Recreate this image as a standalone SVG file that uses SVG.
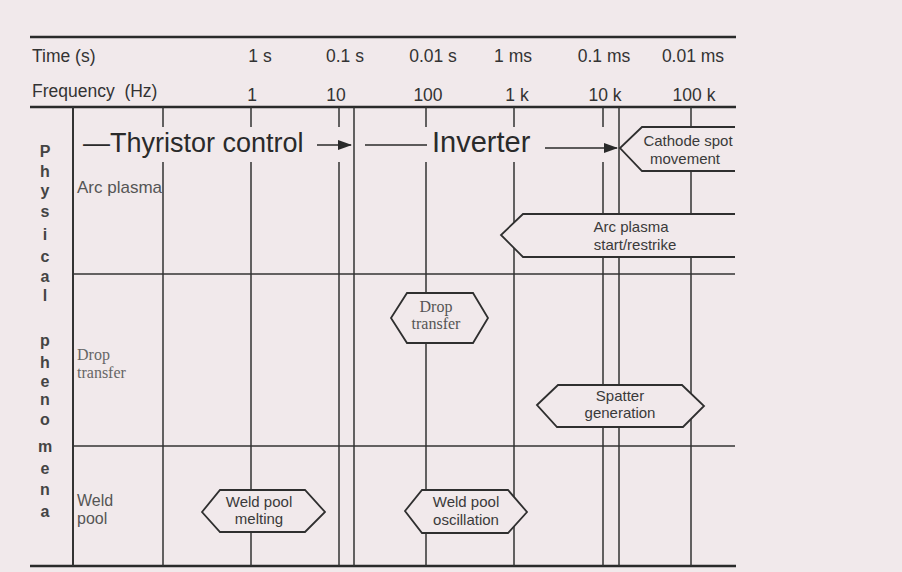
<svg xmlns="http://www.w3.org/2000/svg" width="902" height="572" viewBox="0 0 902 572">
<defs>
<style>
.bg{fill:#f1e9eb}
.rule{stroke:#2a2a2a;stroke-width:2.6;fill:none}
.grid{stroke:#333;stroke-width:1.5;fill:none}
.hex{fill:#f1e9eb;stroke:#2f2f2f;stroke-width:1.8}
.hexfill{fill:#f1e9eb;stroke:none}
.hexline{fill:none;stroke:#2f2f2f;stroke-width:1.8}
.hdr{font-family:"Liberation Sans",Arial,sans-serif;font-size:17.5px;fill:#333}
.big{font-family:"Liberation Sans",Arial,sans-serif;fill:#2a2a2a}
.side{font-family:"Liberation Sans",Arial,sans-serif;font-size:16px;fill:#555}
.sideserif{font-family:"Liberation Serif","Times New Roman",serif;font-size:16px;fill:#666}
.vert{font-family:"Liberation Sans",Arial,sans-serif;font-size:16px;font-weight:bold;fill:#444;text-anchor:middle}
.lbl{font-family:"Liberation Sans",Arial,sans-serif;font-size:15px;fill:#3a3a3a;text-anchor:middle}
.lblserif{font-family:"Liberation Serif","Times New Roman",serif;font-size:16px;fill:#555;text-anchor:middle}
.mid{text-anchor:middle}
.arrow{stroke:#2a2a2a;stroke-width:1.6;fill:none}
</style>
<marker id="ah" markerWidth="14" markerHeight="10" refX="13" refY="5" orient="auto" markerUnits="userSpaceOnUse">
<path d="M0,0 L14,5 L0,10 Z" fill="#2a2a2a"/>
</marker>
</defs>
<rect class="bg" x="0" y="0" width="902" height="572"/>

<g id="grid">
<line class="rule" x1="30" y1="37" x2="736" y2="37"/>
<line class="rule" x1="30" y1="107" x2="736" y2="107"/>
<line class="rule" x1="30" y1="566" x2="736" y2="566"/>
<line class="grid" x1="73" y1="107" x2="73" y2="566" style="stroke-width:2"/>
<line class="grid" x1="73" y1="274" x2="735" y2="274"/>
<line class="grid" x1="73" y1="446" x2="735" y2="446"/>
<path class="grid" d="M163,107V127M163,162V566M251,107V127M251,162V566M339,107V127M339,162V566M426,107V127M426,162V566M514,107V127M514,162V566M603,107V127M603,162V566"/>
<path class="grid" d="M354,107V566M619,107V566M691,107V566"/>
</g>

<g id="header">
<text class="hdr" x="32" y="62">Time (s)</text>
<text class="hdr" x="32" y="97" xml:space="preserve">Frequency  (Hz)</text>
<text class="hdr mid" x="260" y="62">1 s</text>
<text class="hdr mid" x="345" y="62">0.1 s</text>
<text class="hdr mid" x="433" y="62">0.01 s</text>
<text class="hdr mid" x="513" y="62">1 ms</text>
<text class="hdr mid" x="604" y="62">0.1 ms</text>
<text class="hdr mid" x="693" y="62">0.01 ms</text>
<text class="hdr mid" x="252" y="101">1</text>
<text class="hdr mid" x="336" y="101">10</text>
<text class="hdr mid" x="428" y="101">100</text>
<text class="hdr mid" x="517" y="101">1 k</text>
<text class="hdr mid" x="605" y="101">10 k</text>
<text class="hdr mid" x="694" y="101">100 k</text>
</g>

<g id="axis-label">
<text class="vert" x="45" y="157">P</text>
<text class="vert" x="45" y="177">h</text>
<text class="vert" x="45" y="196">y</text>
<text class="vert" x="45" y="217">s</text>
<text class="vert" x="45" y="240">i</text>
<text class="vert" x="45" y="262">c</text>
<text class="vert" x="45" y="282">a</text>
<text class="vert" x="45" y="301">l</text>
<text class="vert" x="45" y="346">p</text>
<text class="vert" x="45" y="368">h</text>
<text class="vert" x="45" y="387">e</text>
<text class="vert" x="45" y="405">n</text>
<text class="vert" x="45" y="425">o</text>
<text class="vert" x="45" y="452">m</text>
<text class="vert" x="45" y="474">e</text>
<text class="vert" x="45" y="495">n</text>
<text class="vert" x="45" y="517">a</text>
</g>

<g id="row-labels">
<text class="side" x="77" y="193" style="font-size:17px">Arc plasma</text>
<text class="sideserif" x="77" y="360">Drop</text>
<text class="sideserif" x="77" y="378">transfer</text>
<text class="side" x="77" y="506">Weld</text>
<text class="side" x="77" y="524">pool</text>
</g>

<g id="thyristor-control">
<text class="big" x="83" y="152" style="font-size:27px">—Thyristor control</text>
</g>
<g id="inverter">
<text class="big" x="432" y="152" style="font-size:29px">Inverter</text>
</g>

<g id="connectors">
<line class="arrow" x1="317" y1="145" x2="351" y2="145" marker-end="url(#ah)"/>
<line class="arrow" x1="365" y1="145" x2="427" y2="145"/>
<line class="arrow" x1="545" y1="148" x2="617" y2="148" marker-end="url(#ah)"/>
</g>

<g id="cathode-spot">
<polygon class="hexfill" points="735,127 642,127 620,148 642,171 735,171"/>
<polyline class="hexline" points="735,127 642,127 620,148 642,171 735,171"/>
<text class="lbl" x="688" y="146">Cathode spot</text>
<text class="lbl" x="685" y="164">movement</text>
</g>

<g id="arc-plasma-restrike">
<polygon class="hexfill" points="735,214 523,214 501,235 523,257 735,257"/>
<polyline class="hexline" points="735,214 523,214 501,235 523,257 735,257"/>
<text class="lbl" x="631" y="232">Arc plasma</text>
<text class="lbl" x="635" y="250">start/restrike</text>
</g>

<g id="drop-transfer">
<polygon class="hex" points="391,318 407,293 473,293 488,318 473,343 407,343"/>
<text class="lblserif" x="436" y="312">Drop</text>
<text class="lblserif" x="436" y="329">transfer</text>
</g>

<g id="spatter-generation">
<polygon class="hex" points="537,405 558,385 682,385 704,406 683,427 557,427"/>
<text class="lbl" x="620" y="401">Spatter</text>
<text class="lbl" x="620" y="418">generation</text>
</g>

<g id="weld-pool-melting">
<polygon class="hex" points="202,512 220,490 305,490 325,512 305,532 220,532"/>
<text class="lbl" x="259" y="507">Weld pool</text>
<text class="lbl" x="259" y="524">melting</text>
</g>

<g id="weld-pool-oscillation">
<polygon class="hex" points="405,511 422,490 508,490 527,512 508,533 422,533"/>
<text class="lbl" x="466" y="507">Weld pool</text>
<text class="lbl" x="466" y="525">oscillation</text>
</g>
</svg>
